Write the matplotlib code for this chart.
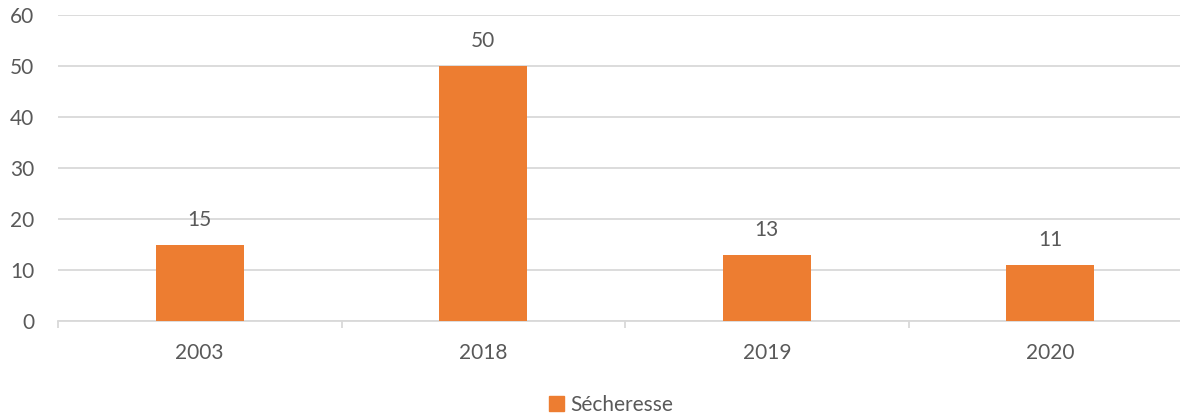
import matplotlib
matplotlib.use("Agg")
import matplotlib.pyplot as plt
from matplotlib.patches import Patch

categories = ["2003", "2018", "2019", "2020"]
values = [15, 50, 13, 11]
series_name = "Sécheresse"
yticks = [0, 10, 20, 30, 40, 50, 60]

plt.rcParams['font.family'] = ['Lato', 'DejaVu Sans']
txt = '#595959'
grid = '#D9D9D9'
bar_c = '#ED7D31'

fig = plt.figure(figsize=(11.8, 4.15), dpi=100)
ax = fig.add_axes([58/1180, 94/415, (1192-58)/1180, (321-15)/415])

x = list(range(len(categories)))
bars = ax.bar(x, values, width=0.31, color=bar_c, zorder=3)
for xi, v in zip(x, values):
    ax.annotate(str(v), (xi, v), xytext=(0, 18), textcoords='offset points',
                ha='center', va='center', fontsize=15, color=txt)

ax.set_xlim(-0.5, len(categories) - 0.5)
ax.set_ylim(0, 60)
ax.set_yticks(yticks)
ax.set_yticklabels([str(t) for t in yticks])
ax.yaxis.grid(True, color=grid, linewidth=1.3, zorder=0)
ax.tick_params(axis='y', length=0, pad=17, labelsize=15, labelcolor=txt)

ax.set_xticks([i - 0.5 for i in range(len(categories) + 1)])
ax.set_xticklabels([])
ax.tick_params(axis='x', which='major', length=5, color=grid, width=1.3)
ax.set_xticks(x, minor=True)
ax.set_xticklabels(categories, minor=True)
ax.tick_params(axis='x', which='minor', length=0, pad=16, labelsize=15, labelcolor=txt)

for s in ['top', 'right', 'left']:
    ax.spines[s].set_visible(False)
ax.spines['bottom'].set_color(grid)
ax.spines['bottom'].set_linewidth(1.3)

fig.legend(handles=[Patch(color=bar_c, label=series_name)], loc='center',
           bbox_to_anchor=(611/1180, 10/415), frameon=False, fontsize=15,
           labelcolor=txt, handlelength=0.75, handleheight=0.75, handletextpad=0.3)

fig.savefig("out.png", dpi=100)
